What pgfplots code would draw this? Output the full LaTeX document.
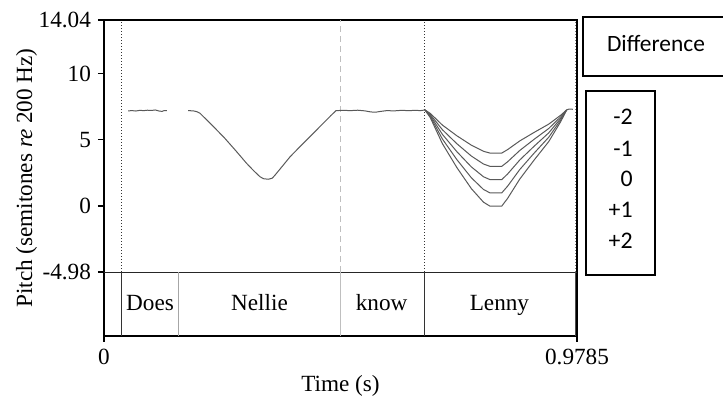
\documentclass[border=0pt]{standalone}
\usepackage{fontspec}
\setmainfont{Liberation Serif}
\newfontfamily\carlito{Carlito}
\usepackage{pgfplots}
\pgfplotsset{compat=1.18}

\begin{document}
\begin{tikzpicture}[x=1pt,y=1pt]
\begin{axis}[
    at={(0pt,0pt)}, anchor=south west,
    scale only axis, width=236.5pt, height=158pt,
    xmin=0, xmax=0.9785, ymin=-9.81, ymax=14.04,
    axis line style={line width=0.8pt},
    xtick={0,0.9785}, xticklabels={0,0.9785},
    ytick={-4.98,0,5,10,14.04}, yticklabels={-4.98,0,5,10,14.04},
    tick align=outside, xtick pos=bottom, ytick pos=left,
    major tick length=3pt, tick style={line width=0.6pt, black},
    ticklabel style={font=\fontsize{11.6}{13}\selectfont},
    label style={font=\fontsize{11.6}{13}\selectfont},
    xlabel={Time (s)},
    ylabel={Pitch (semitones \textit{re} 200 Hz)},
    xlabel style={at={(axis description cs:0.5,-0.177)}, anchor=base},
    ylabel style={at={(axis description cs:-0.152,0.5)}, anchor=base},
]
% tier grid and boundaries
\draw[black!85, line width=0.4pt] (axis cs:0,-4.98) -- (axis cs:0.9785,-4.98);
\draw[black!80, densely dotted, line width=0.5pt] (axis cs:0.0372,-4.98) -- (axis cs:0.0372,14.04);
\draw[black!80, line width=0.5pt] (axis cs:0.0372,-9.81) -- (axis cs:0.0372,-4.98);
\draw[black!35, line width=0.5pt] (axis cs:0.1545,-9.81) -- (axis cs:0.1545,-4.98);
\draw[black!25, densely dashed, line width=0.4pt] (axis cs:0.4897,-4.98) -- (axis cs:0.4897,14.04);
\draw[black!25, line width=0.5pt] (axis cs:0.4897,-9.81) -- (axis cs:0.4897,-4.98);
\draw[black!80, densely dotted, line width=0.5pt] (axis cs:0.6626,-4.98) -- (axis cs:0.6626,14.04);
\draw[black!80, line width=0.5pt] (axis cs:0.6626,-9.81) -- (axis cs:0.6626,-4.98);
\draw[black!55, densely dotted, line width=0.5pt] (axis cs:0.9758,-4.98) -- (axis cs:0.9758,14.04);
\draw[black!70, line width=0.5pt] (axis cs:0.9758,-9.81) -- (axis cs:0.9758,-4.98);

\begin{scope}[font=\fontsize{11.6}{13}\selectfont]
\node[anchor=base] at (axis cs:0.0952,-7.92) {Does};
\node[anchor=base] at (axis cs:0.3217,-7.92) {Nellie};
\node[anchor=base] at (axis cs:0.5744,-7.92) {know};
\node[anchor=base] at (axis cs:0.818,-7.92) {Lenny};
\end{scope}

% pitch contour
\addplot[black!65, line width=0.5pt] coordinates {
 (0.050,7.18) (0.058,7.20) (0.066,7.17) (0.074,7.22) (0.082,7.20) (0.090,7.23)
 (0.098,7.21) (0.106,7.25) (0.114,7.17) (0.120,7.14) (0.124,7.20) (0.130,7.20)
};
\addplot[black!65, line width=0.5pt] coordinates {
 (0.174,7.20) (0.185,7.18) (0.192,7.12) (0.1986,7.00) (0.225,6.05) (0.250,5.11)
 (0.272,4.20) (0.295,3.22) (0.310,2.65) (0.3227,2.21) (0.330,2.06) (0.340,2.02)
 (0.348,2.10) (0.354,2.34) (0.370,3.05) (0.385,3.72) (0.410,4.65) (0.433,5.49)
 (0.455,6.30) (0.470,6.85) (0.480,7.20) (0.495,7.22) (0.510,7.20) (0.525,7.23)
 (0.540,7.18) (0.552,7.10) (0.562,7.08) (0.572,7.14) (0.585,7.20) (0.600,7.18)
 (0.615,7.22) (0.630,7.20) (0.645,7.22) (0.655,7.20) (0.664,7.25)
};
% Lenny: difference -2 ... +2
\addplot[black!65, line width=0.5pt] coordinates {
 (0.664,7.25) (0.675,6.99) (0.700,6.11) (0.730,5.30) (0.760,4.59) (0.785,4.13)
 (0.798,4.00) (0.823,4.00) (0.835,4.26) (0.860,4.91) (0.890,5.56) (0.920,6.18)
 (0.945,6.86) (0.957,7.25) (0.962,7.32) (0.970,7.30)
};
\addplot[black!65, line width=0.5pt] coordinates {
 (0.664,7.25) (0.675,6.91) (0.700,5.76) (0.730,4.70) (0.760,3.77) (0.785,3.17)
 (0.798,3.00) (0.823,3.00) (0.835,3.34) (0.860,4.19) (0.890,5.04) (0.920,5.85)
 (0.945,6.74) (0.957,7.25)
};
\addplot[black!65, line width=0.5pt] coordinates {
 (0.664,7.25) (0.675,6.83) (0.700,5.41) (0.730,4.10) (0.760,2.95) (0.785,2.21)
 (0.798,2.00) (0.823,2.00) (0.835,2.42) (0.860,3.47) (0.890,4.52) (0.920,5.52)
 (0.945,6.62) (0.957,7.25)
};
\addplot[black!65, line width=0.5pt] coordinates {
 (0.664,7.25) (0.675,6.75) (0.700,5.06) (0.730,3.50) (0.760,2.13) (0.785,1.25)
 (0.798,1.00) (0.823,1.00) (0.835,1.50) (0.860,2.75) (0.890,4.00) (0.920,5.19)
 (0.945,6.50) (0.957,7.25)
};
\addplot[black!65, line width=0.5pt] coordinates {
 (0.664,7.25) (0.675,6.67) (0.700,4.71) (0.730,2.90) (0.760,1.31) (0.785,0.29)
 (0.798,0.00) (0.823,0.00) (0.835,0.58) (0.860,2.03) (0.890,3.48) (0.920,4.86)
 (0.945,6.38) (0.957,7.25)
};
\end{axis}

% legend boxes
\draw[line width=1pt] (316,130) -- (239.5,130) -- (239.5,159.5) -- (316,159.5);
\node[anchor=base, font=\carlito\fontsize{11.7}{14}\selectfont] at (276,142.25) {Difference};
\draw[line width=1pt] (241,30.5) rectangle (275.5,122.65);
\begin{scope}[font=\carlito\fontsize{11.9}{14}\selectfont]
\node[anchor=base east, inner sep=0pt] at (264.5,105.5) {-2};
\node[anchor=base east, inner sep=0pt] at (264.5,89.75) {-1};
\node[anchor=base east, inner sep=0pt] at (264.5,74.5) {0};
\node[anchor=base east, inner sep=0pt] at (264.5,59) {+1};
\node[anchor=base east, inner sep=0pt] at (264.5,43.5) {+2};
\end{scope}

\pgfresetboundingbox
\path[use as bounding box] (-52,-32) rectangle (309.5,168);
\end{tikzpicture}
\end{document}
